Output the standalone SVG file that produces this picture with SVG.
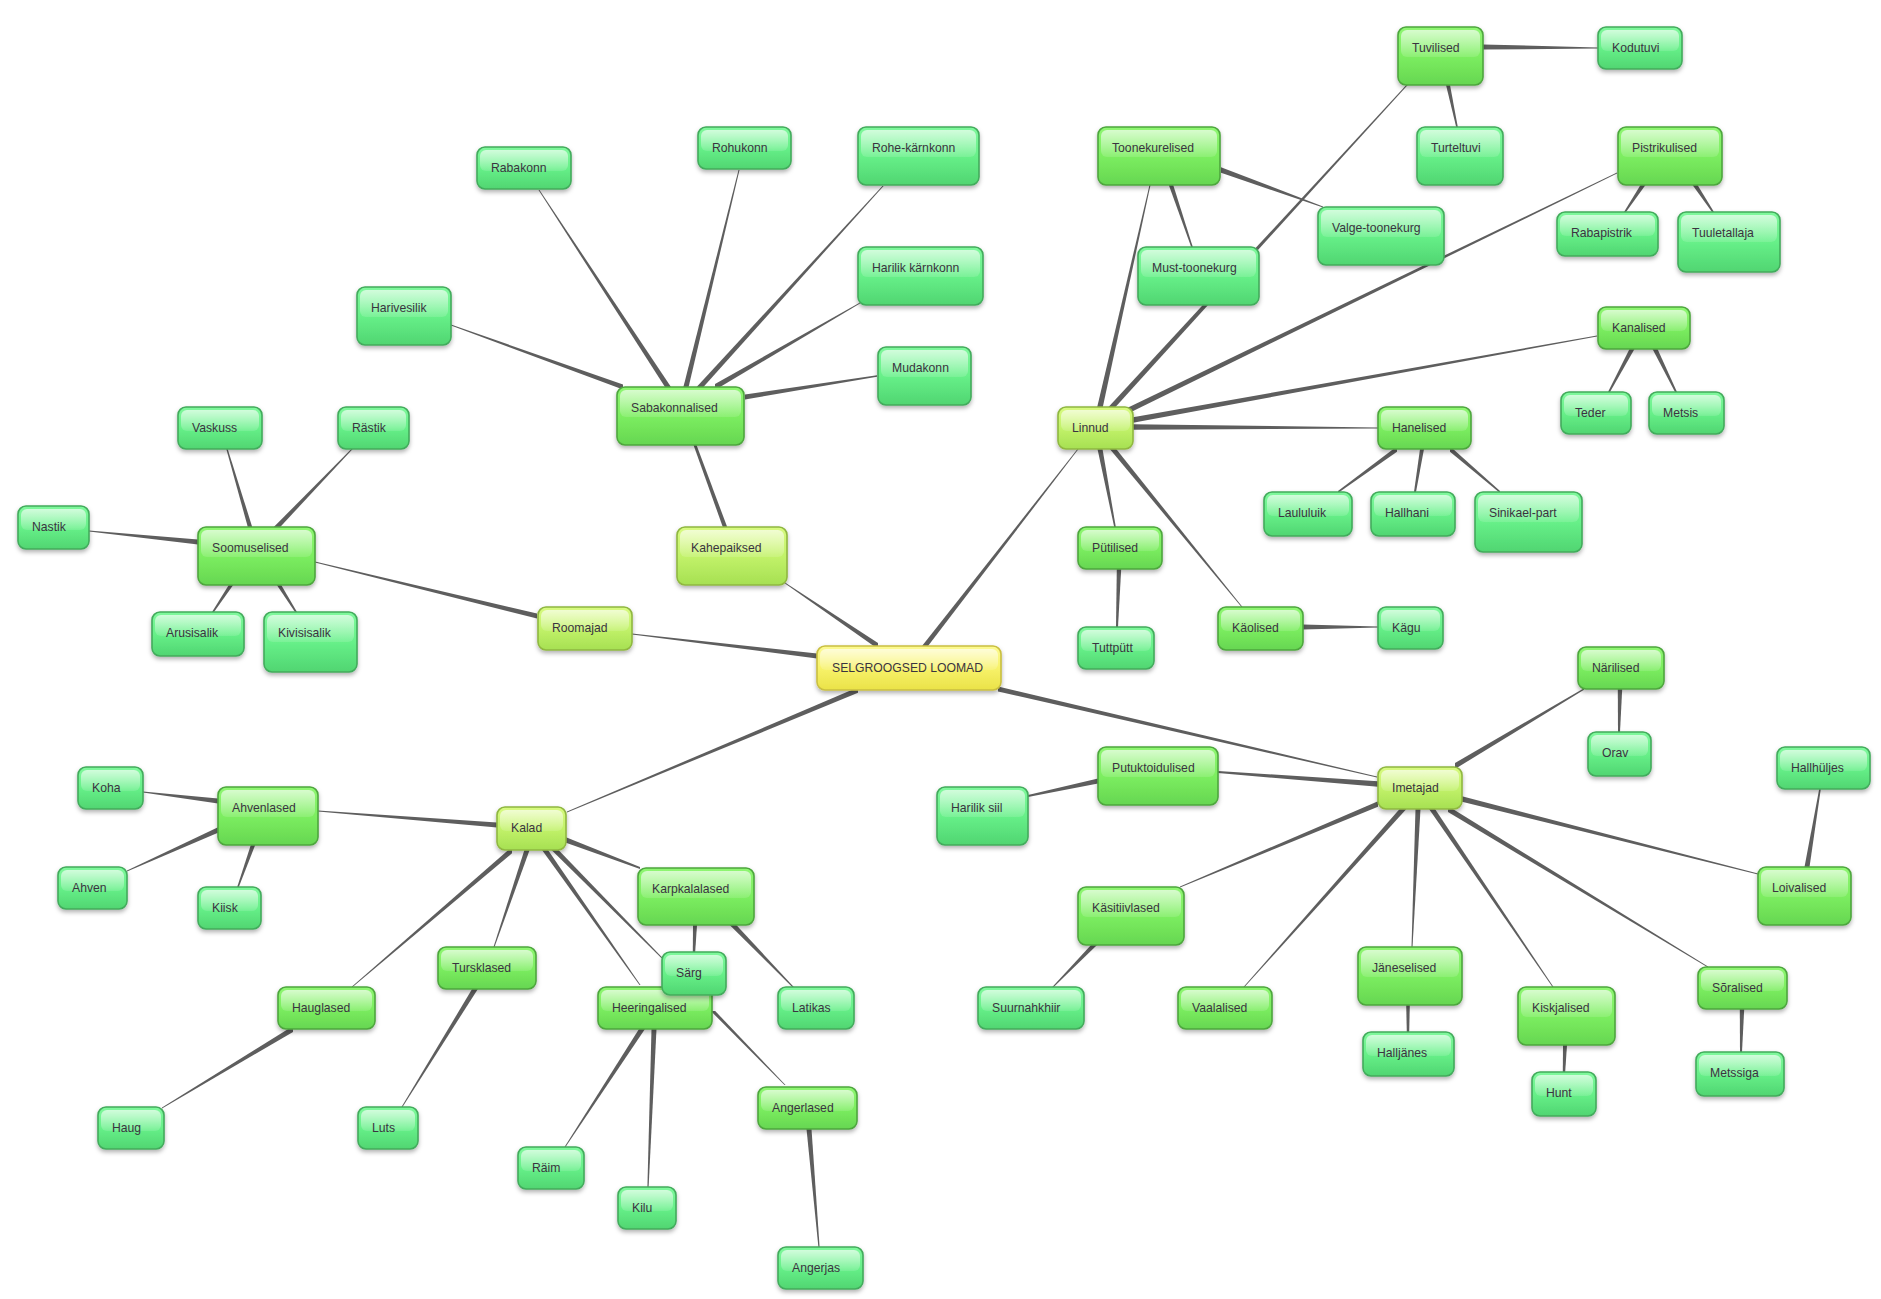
<svg xmlns="http://www.w3.org/2000/svg" width="1881" height="1299" viewBox="0 0 1881 1299">
<defs>
<linearGradient id="gL" x1="0" y1="0" x2="0" y2="1"><stop offset="0" stop-color="#7ff89c"/><stop offset="0.5" stop-color="#67f089"/><stop offset="1" stop-color="#50d571"/></linearGradient>
<linearGradient id="gG" x1="0" y1="0" x2="0" y2="1"><stop offset="0" stop-color="#8ff672"/><stop offset="0.5" stop-color="#7cee60"/><stop offset="1" stop-color="#66d651"/></linearGradient>
<linearGradient id="gY" x1="0" y1="0" x2="0" y2="1"><stop offset="0" stop-color="#d8fa80"/><stop offset="0.5" stop-color="#c2f26a"/><stop offset="1" stop-color="#a6e052"/></linearGradient>
<linearGradient id="gR" x1="0" y1="0" x2="0" y2="1"><stop offset="0" stop-color="#fcfa92"/><stop offset="0.5" stop-color="#f7f26a"/><stop offset="1" stop-color="#eae248"/></linearGradient>
<linearGradient id="gH" x1="0" y1="0" x2="0" y2="1"><stop offset="0" stop-color="#ffffff" stop-opacity="0.65"/><stop offset="1" stop-color="#ffffff" stop-opacity="0.12"/></linearGradient>
<filter id="sh" x="-20%" y="-20%" width="140%" height="160%"><feDropShadow dx="0" dy="2.5" stdDeviation="2" flood-color="#000" flood-opacity="0.3"/></filter>
</defs>
<style>
.node .b{stroke-width:1.6;filter:url(#sh)}
.leaf .b{fill:url(#gL);stroke:#43ab5c}
.grp .b{fill:url(#gG);stroke:#4ea63e}
.top .b{fill:url(#gY);stroke:#8fb740}
.root .b{fill:url(#gR);stroke:#c9bf40}
.hl{fill:url(#gH)}
.node text{font-family:"Liberation Sans",Arial,sans-serif;font-size:12.2px;fill:#3a3340}
#connectors polygon{fill:#5e5e5e}
</style>
<rect width="1881" height="1299" fill="#ffffff"/>
<g id="connectors">
<polygon points="878,643 785,582.4 785,583.6 878,649"/>
<polygon points="817,653.5 632,633.5 632,634.5 817,658.5"/>
<polygon points="858,687.3 567,811.5 567,812.5 858,692.7"/>
<polygon points="922,646 1077.5,449 1078.5,449 928,646"/>
<polygon points="998,686.5 1377,776.5 1377,777.5 998,691.5"/>
<polygon points="722.8,527 693.5,445 696.5,445 727.2,527"/>
<polygon points="623,384.5 451,324.5 451,325.5 623,389.5"/>
<polygon points="665,387 538.5,190 539.5,190 671,387"/>
<polygon points="683.4,387 738.5,170 739.5,170 688.6,387"/>
<polygon points="696.6,387 882.4,186 883.6,186 703.4,387"/>
<polygon points="715,384.1 860,302.4 860,303.6 715,389.9"/>
<polygon points="745,394.5 877,375.3 877,376.7 745,399.5"/>
<polygon points="537,613.5 315,561.5 315,562.5 537,618.5"/>
<polygon points="247.8,527 226.3,449 227.7,449 252.2,527"/>
<polygon points="273.8,527 351.3,449 352.7,449 280.2,527"/>
<polygon points="198,539.5 89,530.5 89,531.5 198,544.5"/>
<polygon points="228.8,585 212,612 214,612 233.2,585"/>
<polygon points="276.8,585 295,612 297,612 281.2,585"/>
<polygon points="1097.2,407 1149.5,185 1150.5,185 1102.8,407"/>
<polygon points="1108.5,407 1406.3,85 1407.7,85 1115.5,407"/>
<polygon points="1125,409 1617,172.5 1617,173.5 1125,415"/>
<polygon points="1133,417.2 1597,335.5 1597,336.5 1133,422.8"/>
<polygon points="1133,424.2 1378,427.5 1378,428.5 1133,429.8"/>
<polygon points="1097.5,449 1114.2,527 1115.8,527 1102.5,449"/>
<polygon points="1109.8,449 1241.5,607 1242.5,607 1116.2,449"/>
<polygon points="1168.8,185 1191.2,247 1192.8,247 1173.2,185"/>
<polygon points="1221,167.3 1323,206.4 1323,207.6 1221,172.7"/>
<polygon points="1483,44.5 1598,47.5 1598,48.5 1483,49.5"/>
<polygon points="1446,85 1456.2,127 1457.8,127 1450,85"/>
<polygon points="1640.5,185 1624,212 1626,212 1645.5,185"/>
<polygon points="1692.5,185 1712,212 1714,212 1697.5,185"/>
<polygon points="1629.5,349 1608,392 1610,392 1634.5,349"/>
<polygon points="1652.5,349 1675,392 1677,392 1657.5,349"/>
<polygon points="1397,446.3 1338,491 1338,493 1397,451.7"/>
<polygon points="1420,449 1414,492 1416,492 1424,449"/>
<polygon points="1450,446.2 1500,491 1500,493 1450,451.8"/>
<polygon points="1116.8,569 1116,627 1118,627 1121.2,569"/>
<polygon points="1303,624.5 1378,626.4 1378,627.6 1303,629.5"/>
<polygon points="497,822.5 318,810.5 318,811.5 497,827.5"/>
<polygon points="512,846.7 352,986.5 352,987.5 512,853.3"/>
<polygon points="524.4,850 493.5,947 494.5,947 529.6,850"/>
<polygon points="542,850 639.5,985 640.5,985 548,850"/>
<polygon points="551.5,850 661.3,958 662.7,958 558.5,850"/>
<polygon points="566,837.3 640,867 640,869 566,842.7"/>
<polygon points="218,798.5 143,791.4 143,792.6 218,803.5"/>
<polygon points="218,827.3 127,870.5 127,871.5 218,832.7"/>
<polygon points="250.8,845 237.2,887 238.8,887 255.2,845"/>
<polygon points="293,1026.1 162,1107.5 162,1108.5 293,1031.9"/>
<polygon points="472.1,989 401.5,1107 402.5,1107 477.9,989"/>
<polygon points="693,925 692.8,952 695.2,952 697,925"/>
<polygon points="729.7,925 792.2,987 793.8,987 736.3,925"/>
<polygon points="710.8,1011 784.5,1085 785.5,1085 715.2,1011"/>
<polygon points="639,1029 564.5,1147 565.5,1147 645,1029"/>
<polygon points="651.5,1029 647.4,1187 648.6,1187 656.5,1029"/>
<polygon points="806.5,1129 818.4,1247 819.6,1247 811.5,1129"/>
<polygon points="1378,781.2 1218,771 1218,773 1378,786.8"/>
<polygon points="1098,778.5 1028,795 1028,797 1098,783.5"/>
<polygon points="1378,801.2 1180,886.5 1180,887.5 1378,806.8"/>
<polygon points="1091,945 1052.3,987 1053.7,987 1097,945"/>
<polygon points="1399.6,809 1243.5,987 1244.5,987 1406.4,809"/>
<polygon points="1415.5,809 1411.5,947 1412.5,947 1420.5,809"/>
<polygon points="1406.2,1005 1406.8,1032 1409.2,1032 1409.8,1005"/>
<polygon points="1429,809 1552.5,987 1553.5,987 1435,809"/>
<polygon points="1563,1045 1562.8,1072 1565.2,1072 1567,1045"/>
<polygon points="1448,806 1708,966.5 1708,967.5 1448,812"/>
<polygon points="1739.8,1009 1740,1052 1742,1052 1744.2,1009"/>
<polygon points="1462,796.3 1758,873.5 1758,874.5 1462,801.7"/>
<polygon points="1804.5,867 1819.2,789 1820.8,789 1809.5,867"/>
<polygon points="1455,763 1584,688.2 1584,689.8 1455,769"/>
<polygon points="1617.8,689 1618,732 1620,732 1622.2,689"/>
</g>
<g id="nodes">
<g id="n-selg" class="node root"><rect class="b" x="817" y="646" width="184" height="44" rx="8"/><rect class="hl" x="820" y="649" width="178" height="21" rx="6"/><text x="832" y="672">SELGROOGSED LOOMAD</text></g>
<g id="n-kahepaiksed" class="node top"><rect class="b" x="677" y="527" width="110" height="58" rx="8"/><rect class="hl" x="680" y="530" width="104" height="27" rx="6"/><text x="691" y="552">Kahepaiksed</text></g>
<g id="n-roomajad" class="node top"><rect class="b" x="538" y="607" width="94" height="43" rx="8"/><rect class="hl" x="541" y="610" width="88" height="21" rx="6"/><text x="552" y="632">Roomajad</text></g>
<g id="n-kalad" class="node top"><rect class="b" x="497" y="807" width="69" height="43" rx="8"/><rect class="hl" x="500" y="810" width="63" height="21" rx="6"/><text x="511" y="832">Kalad</text></g>
<g id="n-linnud" class="node top"><rect class="b" x="1058" y="407" width="75" height="42" rx="8"/><rect class="hl" x="1061" y="410" width="69" height="21" rx="6"/><text x="1072" y="432">Linnud</text></g>
<g id="n-imetajad" class="node top"><rect class="b" x="1378" y="767" width="84" height="42" rx="8"/><rect class="hl" x="1381" y="770" width="78" height="21" rx="6"/><text x="1392" y="792">Imetajad</text></g>
<g id="n-sabakonnalised" class="node grp"><rect class="b" x="617" y="387" width="127" height="58" rx="8"/><rect class="hl" x="620" y="390" width="121" height="27" rx="6"/><text x="631" y="412">Sabakonnalised</text></g>
<g id="n-soomuselised" class="node grp"><rect class="b" x="198" y="527" width="117" height="58" rx="8"/><rect class="hl" x="201" y="530" width="111" height="27" rx="6"/><text x="212" y="552">Soomuselised</text></g>
<g id="n-toonekurelised" class="node grp"><rect class="b" x="1098" y="127" width="122" height="58" rx="8"/><rect class="hl" x="1101" y="130" width="116" height="27" rx="6"/><text x="1112" y="152">Toonekurelised</text></g>
<g id="n-tuvilised" class="node grp"><rect class="b" x="1398" y="27" width="85" height="58" rx="8"/><rect class="hl" x="1401" y="30" width="79" height="27" rx="6"/><text x="1412" y="52">Tuvilised</text></g>
<g id="n-pistrikulised" class="node grp"><rect class="b" x="1618" y="127" width="104" height="58" rx="8"/><rect class="hl" x="1621" y="130" width="98" height="27" rx="6"/><text x="1632" y="152">Pistrikulised</text></g>
<g id="n-kanalised" class="node grp"><rect class="b" x="1598" y="307" width="92" height="42" rx="8"/><rect class="hl" x="1601" y="310" width="86" height="21" rx="6"/><text x="1612" y="332">Kanalised</text></g>
<g id="n-hanelised" class="node grp"><rect class="b" x="1378" y="407" width="93" height="42" rx="8"/><rect class="hl" x="1381" y="410" width="87" height="21" rx="6"/><text x="1392" y="432">Hanelised</text></g>
<g id="n-putilised" class="node grp"><rect class="b" x="1078" y="527" width="84" height="42" rx="8"/><rect class="hl" x="1081" y="530" width="78" height="21" rx="6"/><text x="1092" y="552">Pütilised</text></g>
<g id="n-kaolised" class="node grp"><rect class="b" x="1218" y="607" width="85" height="43" rx="8"/><rect class="hl" x="1221" y="610" width="79" height="21" rx="6"/><text x="1232" y="632">Käolised</text></g>
<g id="n-ahvenlased" class="node grp"><rect class="b" x="218" y="787" width="100" height="58" rx="8"/><rect class="hl" x="221" y="790" width="94" height="27" rx="6"/><text x="232" y="812">Ahvenlased</text></g>
<g id="n-hauglased" class="node grp"><rect class="b" x="278" y="987" width="97" height="42" rx="8"/><rect class="hl" x="281" y="990" width="91" height="21" rx="6"/><text x="292" y="1012">Hauglased</text></g>
<g id="n-tursklased" class="node grp"><rect class="b" x="438" y="947" width="98" height="42" rx="8"/><rect class="hl" x="441" y="950" width="92" height="21" rx="6"/><text x="452" y="972">Tursklased</text></g>
<g id="n-karpkalalased" class="node grp"><rect class="b" x="638" y="868" width="116" height="57" rx="8"/><rect class="hl" x="641" y="871" width="110" height="27" rx="6"/><text x="652" y="893">Karpkalalased</text></g>
<g id="n-heeringalised" class="node grp"><rect class="b" x="598" y="987" width="114" height="42" rx="8"/><rect class="hl" x="601" y="990" width="108" height="21" rx="6"/><text x="612" y="1012">Heeringalised</text></g>
<g id="n-angerlased" class="node grp"><rect class="b" x="758" y="1087" width="99" height="42" rx="8"/><rect class="hl" x="761" y="1090" width="93" height="21" rx="6"/><text x="772" y="1112">Angerlased</text></g>
<g id="n-putuktoidulised" class="node grp"><rect class="b" x="1098" y="747" width="120" height="58" rx="8"/><rect class="hl" x="1101" y="750" width="114" height="27" rx="6"/><text x="1112" y="772">Putuktoidulised</text></g>
<g id="n-kasitiivlased" class="node grp"><rect class="b" x="1078" y="887" width="106" height="58" rx="8"/><rect class="hl" x="1081" y="890" width="100" height="27" rx="6"/><text x="1092" y="912">Käsitiivlased</text></g>
<g id="n-vaalalised" class="node grp"><rect class="b" x="1178" y="987" width="94" height="42" rx="8"/><rect class="hl" x="1181" y="990" width="88" height="21" rx="6"/><text x="1192" y="1012">Vaalalised</text></g>
<g id="n-janeselised" class="node grp"><rect class="b" x="1358" y="947" width="104" height="58" rx="8"/><rect class="hl" x="1361" y="950" width="98" height="27" rx="6"/><text x="1372" y="972">Jäneselised</text></g>
<g id="n-kiskjalised" class="node grp"><rect class="b" x="1518" y="987" width="97" height="58" rx="8"/><rect class="hl" x="1521" y="990" width="91" height="27" rx="6"/><text x="1532" y="1012">Kiskjalised</text></g>
<g id="n-soralised" class="node grp"><rect class="b" x="1698" y="967" width="89" height="42" rx="8"/><rect class="hl" x="1701" y="970" width="83" height="21" rx="6"/><text x="1712" y="992">Sõralised</text></g>
<g id="n-loivalised" class="node grp"><rect class="b" x="1758" y="867" width="93" height="58" rx="8"/><rect class="hl" x="1761" y="870" width="87" height="27" rx="6"/><text x="1772" y="892">Loivalised</text></g>
<g id="n-narilised" class="node grp"><rect class="b" x="1578" y="647" width="86" height="42" rx="8"/><rect class="hl" x="1581" y="650" width="80" height="21" rx="6"/><text x="1592" y="672">Närilised</text></g>
<g id="n-harivesilik" class="node leaf"><rect class="b" x="357" y="287" width="94" height="58" rx="8"/><rect class="hl" x="360" y="290" width="88" height="27" rx="6"/><text x="371" y="312">Harivesilik</text></g>
<g id="n-rabakonn" class="node leaf"><rect class="b" x="477" y="147" width="94" height="42" rx="8"/><rect class="hl" x="480" y="150" width="88" height="21" rx="6"/><text x="491" y="172">Rabakonn</text></g>
<g id="n-rohukonn" class="node leaf"><rect class="b" x="698" y="127" width="93" height="42" rx="8"/><rect class="hl" x="701" y="130" width="87" height="21" rx="6"/><text x="712" y="152">Rohukonn</text></g>
<g id="n-rohekarnkonn" class="node leaf"><rect class="b" x="858" y="127" width="121" height="58" rx="8"/><rect class="hl" x="861" y="130" width="115" height="27" rx="6"/><text x="872" y="152">Rohe-kärnkonn</text></g>
<g id="n-harilikkarnkonn" class="node leaf"><rect class="b" x="858" y="247" width="125" height="58" rx="8"/><rect class="hl" x="861" y="250" width="119" height="27" rx="6"/><text x="872" y="272">Harilik kärnkonn</text></g>
<g id="n-mudakonn" class="node leaf"><rect class="b" x="878" y="347" width="93" height="58" rx="8"/><rect class="hl" x="881" y="350" width="87" height="27" rx="6"/><text x="892" y="372">Mudakonn</text></g>
<g id="n-vaskuss" class="node leaf"><rect class="b" x="178" y="407" width="84" height="42" rx="8"/><rect class="hl" x="181" y="410" width="78" height="21" rx="6"/><text x="192" y="432">Vaskuss</text></g>
<g id="n-rastik" class="node leaf"><rect class="b" x="338" y="407" width="71" height="42" rx="8"/><rect class="hl" x="341" y="410" width="65" height="21" rx="6"/><text x="352" y="432">Rästik</text></g>
<g id="n-nastik" class="node leaf"><rect class="b" x="18" y="506" width="71" height="43" rx="8"/><rect class="hl" x="21" y="509" width="65" height="21" rx="6"/><text x="32" y="531">Nastik</text></g>
<g id="n-arusisalik" class="node leaf"><rect class="b" x="152" y="612" width="92" height="44" rx="8"/><rect class="hl" x="155" y="615" width="86" height="21" rx="6"/><text x="166" y="637">Arusisalik</text></g>
<g id="n-kivisisalik" class="node leaf"><rect class="b" x="264" y="612" width="93" height="60" rx="8"/><rect class="hl" x="267" y="615" width="87" height="27" rx="6"/><text x="278" y="637">Kivisisalik</text></g>
<g id="n-musttoonekurg" class="node leaf"><rect class="b" x="1138" y="247" width="121" height="58" rx="8"/><rect class="hl" x="1141" y="250" width="115" height="27" rx="6"/><text x="1152" y="272">Must-toonekurg</text></g>
<g id="n-valgetoonekurg" class="node leaf"><rect class="b" x="1318" y="207" width="126" height="58" rx="8"/><rect class="hl" x="1321" y="210" width="120" height="27" rx="6"/><text x="1332" y="232">Valge-toonekurg</text></g>
<g id="n-kodutuvi" class="node leaf"><rect class="b" x="1598" y="27" width="84" height="42" rx="8"/><rect class="hl" x="1601" y="30" width="78" height="21" rx="6"/><text x="1612" y="52">Kodutuvi</text></g>
<g id="n-turteltuvi" class="node leaf"><rect class="b" x="1417" y="127" width="86" height="58" rx="8"/><rect class="hl" x="1420" y="130" width="80" height="27" rx="6"/><text x="1431" y="152">Turteltuvi</text></g>
<g id="n-rabapistrik" class="node leaf"><rect class="b" x="1557" y="212" width="101" height="44" rx="8"/><rect class="hl" x="1560" y="215" width="95" height="21" rx="6"/><text x="1571" y="237">Rabapistrik</text></g>
<g id="n-tuuletallaja" class="node leaf"><rect class="b" x="1678" y="212" width="102" height="60" rx="8"/><rect class="hl" x="1681" y="215" width="96" height="27" rx="6"/><text x="1692" y="237">Tuuletallaja</text></g>
<g id="n-teder" class="node leaf"><rect class="b" x="1561" y="392" width="70" height="42" rx="8"/><rect class="hl" x="1564" y="395" width="64" height="21" rx="6"/><text x="1575" y="417">Teder</text></g>
<g id="n-metsis" class="node leaf"><rect class="b" x="1649" y="392" width="75" height="42" rx="8"/><rect class="hl" x="1652" y="395" width="69" height="21" rx="6"/><text x="1663" y="417">Metsis</text></g>
<g id="n-laululuik" class="node leaf"><rect class="b" x="1264" y="492" width="88" height="44" rx="8"/><rect class="hl" x="1267" y="495" width="82" height="21" rx="6"/><text x="1278" y="517">Laululuik</text></g>
<g id="n-hallhani" class="node leaf"><rect class="b" x="1371" y="492" width="84" height="44" rx="8"/><rect class="hl" x="1374" y="495" width="78" height="21" rx="6"/><text x="1385" y="517">Hallhani</text></g>
<g id="n-sinikaelpart" class="node leaf"><rect class="b" x="1475" y="492" width="107" height="60" rx="8"/><rect class="hl" x="1478" y="495" width="101" height="27" rx="6"/><text x="1489" y="517">Sinikael-part</text></g>
<g id="n-tuttputt" class="node leaf"><rect class="b" x="1078" y="627" width="76" height="42" rx="8"/><rect class="hl" x="1081" y="630" width="70" height="21" rx="6"/><text x="1092" y="652">Tuttpütt</text></g>
<g id="n-kagu" class="node leaf"><rect class="b" x="1378" y="607" width="65" height="42" rx="8"/><rect class="hl" x="1381" y="610" width="59" height="21" rx="6"/><text x="1392" y="632">Kägu</text></g>
<g id="n-koha" class="node leaf"><rect class="b" x="78" y="767" width="65" height="42" rx="8"/><rect class="hl" x="81" y="770" width="59" height="21" rx="6"/><text x="92" y="792">Koha</text></g>
<g id="n-ahven" class="node leaf"><rect class="b" x="58" y="867" width="69" height="42" rx="8"/><rect class="hl" x="61" y="870" width="63" height="21" rx="6"/><text x="72" y="892">Ahven</text></g>
<g id="n-kiisk" class="node leaf"><rect class="b" x="198" y="887" width="63" height="42" rx="8"/><rect class="hl" x="201" y="890" width="57" height="21" rx="6"/><text x="212" y="912">Kiisk</text></g>
<g id="n-haug" class="node leaf"><rect class="b" x="98" y="1107" width="66" height="42" rx="8"/><rect class="hl" x="101" y="1110" width="60" height="21" rx="6"/><text x="112" y="1132">Haug</text></g>
<g id="n-luts" class="node leaf"><rect class="b" x="358" y="1107" width="60" height="42" rx="8"/><rect class="hl" x="361" y="1110" width="54" height="21" rx="6"/><text x="372" y="1132">Luts</text></g>
<g id="n-sarg" class="node leaf"><rect class="b" x="662" y="952" width="64" height="43" rx="8"/><rect class="hl" x="665" y="955" width="58" height="21" rx="6"/><text x="676" y="977">Särg</text></g>
<g id="n-latikas" class="node leaf"><rect class="b" x="778" y="987" width="76" height="42" rx="8"/><rect class="hl" x="781" y="990" width="70" height="21" rx="6"/><text x="792" y="1012">Latikas</text></g>
<g id="n-raim" class="node leaf"><rect class="b" x="518" y="1147" width="66" height="42" rx="8"/><rect class="hl" x="521" y="1150" width="60" height="21" rx="6"/><text x="532" y="1172">Räim</text></g>
<g id="n-kilu" class="node leaf"><rect class="b" x="618" y="1187" width="58" height="42" rx="8"/><rect class="hl" x="621" y="1190" width="52" height="21" rx="6"/><text x="632" y="1212">Kilu</text></g>
<g id="n-angerjas" class="node leaf"><rect class="b" x="778" y="1247" width="85" height="42" rx="8"/><rect class="hl" x="781" y="1250" width="79" height="21" rx="6"/><text x="792" y="1272">Angerjas</text></g>
<g id="n-hariliksiil" class="node leaf"><rect class="b" x="937" y="787" width="91" height="58" rx="8"/><rect class="hl" x="940" y="790" width="85" height="27" rx="6"/><text x="951" y="812">Harilik siil</text></g>
<g id="n-suurnahkhiir" class="node leaf"><rect class="b" x="978" y="987" width="106" height="42" rx="8"/><rect class="hl" x="981" y="990" width="100" height="21" rx="6"/><text x="992" y="1012">Suurnahkhiir</text></g>
<g id="n-halljanes" class="node leaf"><rect class="b" x="1363" y="1032" width="91" height="44" rx="8"/><rect class="hl" x="1366" y="1035" width="85" height="21" rx="6"/><text x="1377" y="1057">Halljänes</text></g>
<g id="n-hunt" class="node leaf"><rect class="b" x="1532" y="1072" width="64" height="44" rx="8"/><rect class="hl" x="1535" y="1075" width="58" height="21" rx="6"/><text x="1546" y="1097">Hunt</text></g>
<g id="n-metssiga" class="node leaf"><rect class="b" x="1696" y="1052" width="88" height="44" rx="8"/><rect class="hl" x="1699" y="1055" width="82" height="21" rx="6"/><text x="1710" y="1077">Metssiga</text></g>
<g id="n-orav" class="node leaf"><rect class="b" x="1588" y="732" width="63" height="44" rx="8"/><rect class="hl" x="1591" y="735" width="57" height="21" rx="6"/><text x="1602" y="757">Orav</text></g>
<g id="n-hallhuljes" class="node leaf"><rect class="b" x="1777" y="747" width="93" height="42" rx="8"/><rect class="hl" x="1780" y="750" width="87" height="21" rx="6"/><text x="1791" y="772">Hallhüljes</text></g>
</g>
</svg>
